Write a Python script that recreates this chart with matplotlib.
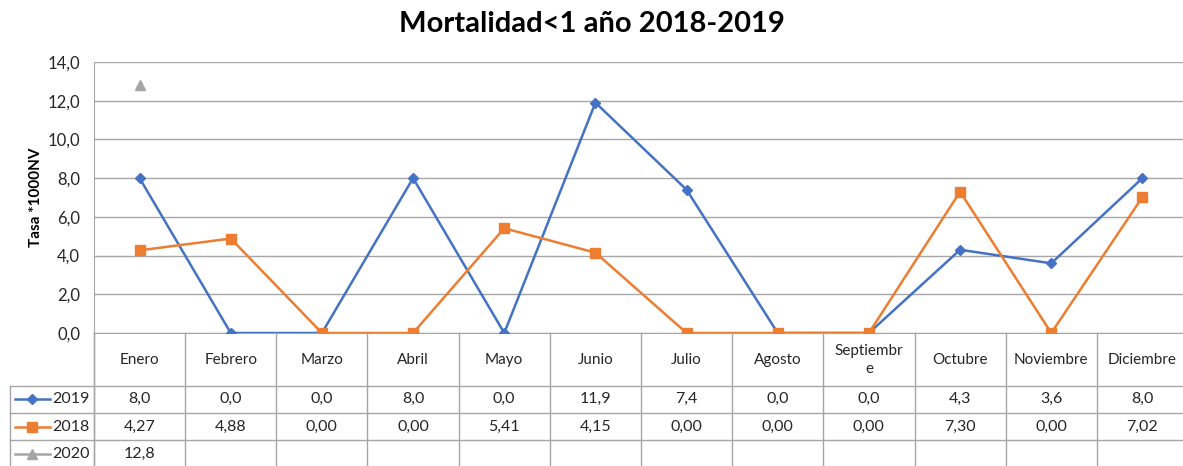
import matplotlib
matplotlib.use("Agg")
import matplotlib.pyplot as plt
import matplotlib.transforms as mtransforms
from matplotlib.lines import Line2D

# data
months = ["Enero", "Febrero", "Marzo", "Abril", "Mayo", "Junio", "Julio",
          "Agosto", "Septiembre", "Octubre", "Noviembre", "Diciembre"]
month_labels = ["Enero", "Febrero", "Marzo", "Abril", "Mayo", "Junio", "Julio",
                "Agosto", "Septiembr\ne", "Octubre", "Noviembre", "Diciembre"]
tasa_2019 = [8.0, 0.0, 0.0, 8.0, 0.0, 11.9, 7.4, 0.0, 0.0, 4.3, 3.6, 8.0]
tasa_2018 = [4.27, 4.88, 0.00, 0.00, 5.41, 4.15, 0.00, 0.00, 0.00, 7.30, 0.00, 7.02]
tasa_2020 = [12.8]
y_ticks = [0, 2, 4, 6, 8, 10, 12, 14]

plt.rcParams['font.family'] = ['Lato', 'DejaVu Sans']

W, H = 1183, 466
fig = plt.figure(figsize=(W / 100, H / 100), dpi=100)

grid_c = '#a6a6a6'
txt_c = '#262626'
blue, orange, gray = '#4472C4', '#ED7D31', '#A5A5A5'

ax = fig.add_axes([94 / W, 1 - 333 / H, (1188 - 94) / W, (333 - 62) / H])
x = list(range(len(months)))
ax.plot(x, tasa_2019, color=blue, marker='D', ms=5.5, lw=1.8, zorder=3)
ax.plot(x, tasa_2018, color=orange, marker='s', ms=7, lw=1.8, zorder=3)
ax.plot(x[:len(tasa_2020)], tasa_2020, color=gray, marker='^', ms=7, lw=1.8, zorder=3)

ax.set_xlim(-0.5, 11.5)
ax.set_ylim(0, 14)
ax.set_yticks(y_ticks)
ax.set_yticklabels([f"{v:.1f}".replace('.', ',') for v in y_ticks], fontsize=12)
ax.set_xticks([])
ax.tick_params(axis='y', length=0, pad=10, colors=txt_c)
ax.grid(axis='y', color=grid_c, lw=1)
for s in ['top', 'right']:
    ax.spines[s].set_visible(False)
for s in ['left', 'bottom']:
    ax.spines[s].set_color(grid_c)
ax.set_ylabel("Tasa *1000NV", fontsize=11, fontweight='bold', labelpad=3)

fig.text(0.5, 1 - 24 / H, "Mortalidad<1 año 2018-2019", ha='center', va='center',
         fontsize=21, fontweight='bold')

# data table below the axis
px = fig.add_axes([0, 0, 1, 1], zorder=-1)
px.set_xlim(0, W)
px.set_ylim(H, 0)
px.axis('off')
tr = mtransforms.blended_transform_factory(ax.transData, px.transData)

for k in range(len(months) + 1):
    fig.add_artist(Line2D([k - 0.5, k - 0.5], [333, H], transform=tr, color=grid_c, lw=1))
fig.add_artist(Line2D([94, 94], [333, H], transform=px.transData, color=grid_c, lw=1))
fig.add_artist(Line2D([10, 10], [386, H], transform=px.transData, color=grid_c, lw=1))
for yy in [386, 413, 440]:
    fig.add_artist(Line2D([10, W], [yy, yy], transform=px.transData, color=grid_c, lw=1))

for i, lab in enumerate(month_labels):
    ax.text(i, 360, lab, transform=tr, ha='center', va='center', fontsize=11,
            color=txt_c, clip_on=False, linespacing=1.45)

rows = [("2019", tasa_2019, 1, blue, 'D', 5, 399),
        ("2018", tasa_2018, 2, orange, 's', 7, 427),
        ("2020", tasa_2020, 1, gray, '^', 7, 454)]
for name, vals, dec, col, mk, ms, yc in rows:
    px.plot([15, 50], [yc, yc], color=col, lw=1.8, clip_on=False)
    px.plot([32.5], [yc], color=col, marker=mk, ms=ms, clip_on=False)
    px.text(52, yc, name, ha='left', va='center', fontsize=11.5, color=txt_c)
    for i, v in enumerate(vals):
        ax.text(i, yc, f"{v:.{dec}f}".replace('.', ','), transform=tr, ha='center',
                va='center', fontsize=11.5, color=txt_c, clip_on=False)

fig.savefig("out.png", dpi=100)
